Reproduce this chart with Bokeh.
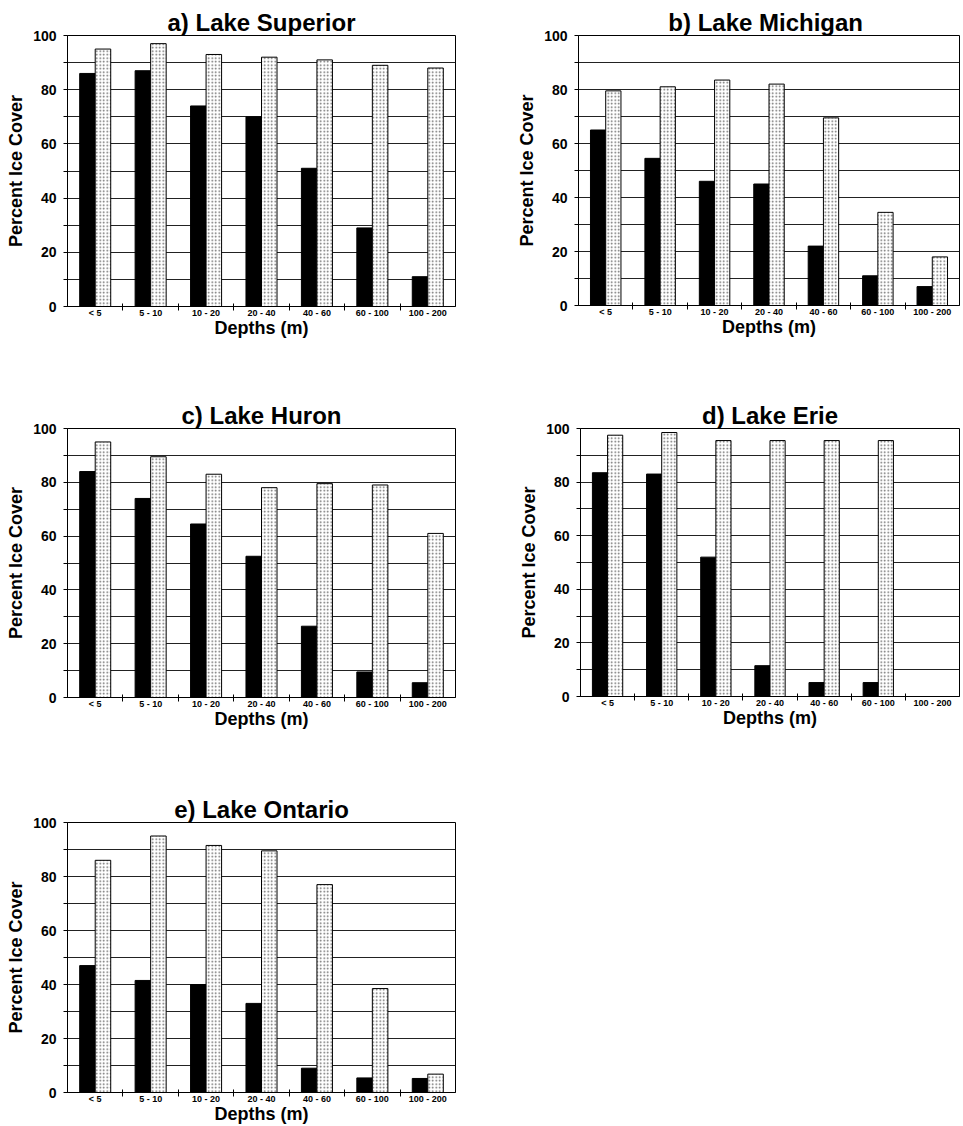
import numpy as np
from bokeh.plotting import figure
from bokeh.models import FixedTicker, Range1d, ColumnDataSource
from bokeh.layouts import column, row
from bokeh.transform import dodge
from bokeh.embed import file_html
from bokeh.resources import INLINE

depths = ["< 5", "5 - 10", "10 - 20", "20 - 40", "40 - 60", "60 - 100", "100 - 200"]

superior_solid = [86, 87, 74, 70, 51, 29, 11]
superior_dotted = [95, 97, 93, 92, 91, 89, 88]

michigan_solid = [65, 54.5, 46, 45, 22, 11, 7]
michigan_dotted = [79.5, 81, 83.5, 82, 69.5, 34.5, 18]

huron_solid = [84, 74, 64.5, 52.5, 26.5, 9.5, 5.5]
huron_dotted = [95, 89.5, 83, 78, 79.5, 79, 61]

erie_solid = [83.5, 83, 52, 11.5, 5.2, 5.2, float("nan")]
erie_dotted = [97.5, 98.5, 95.5, 95.5, 95.5, 95.5, float("nan")]

ontario_solid = [47, 41.5, 40, 33, 9, 5.4, 5.2]
ontario_dotted = [86, 95, 91.5, 89.5, 77, 38.5, 6.8]

y_ticks = [0, 20, 40, 60, 80, 100]
y_minor = [10, 30, 50, 70, 90]
grid_ticks = list(range(0, 101, 10))

FONT = "Liberation Sans"


def panel(title, solid, dotted, fw, fh, bl, br, bt, bb, fixed_height=None):
    n = len(depths)
    centers = np.arange(n) + 0.5
    src = ColumnDataSource(dict(x=centers, solid=solid, dotted=dotted))
    kw = dict(frame_width=fw)
    if fixed_height is None:
        kw["frame_height"] = fh
    else:
        kw["height"] = fixed_height
    p = figure(x_range=Range1d(0, n), y_range=Range1d(0, 100),
               output_backend="svg", toolbar_location=None,
               min_border_left=bl, min_border_right=br,
               min_border_top=bt, min_border_bottom=bb, **kw)
    p.vbar(x=dodge("x", -0.14, range=p.x_range), top="solid", width=0.28, source=src,
           fill_color="black", line_color="black", line_width=1)
    p.vbar(x=dodge("x", 0.14, range=p.x_range), top="dotted", width=0.28, source=src,
           fill_color="white", line_color="black", line_width=1,
           hatch_pattern="dot", hatch_color="#666666", hatch_scale=3.5, hatch_weight=1)

    p.title.text = title
    p.title.align = "center"
    p.title.text_font = FONT
    p.title.text_font_size = "24px"
    p.title.text_font_style = "bold"
    p.title.text_color = "black"
    p.title.standoff = 0

    p.outline_line_color = "black"
    p.outline_line_width = 1
    p.background_fill_color = "white"
    p.border_fill_color = "white"

    p.xgrid.visible = False
    p.ygrid.ticker = FixedTicker(ticks=grid_ticks)
    p.ygrid.grid_line_color = "#222222"
    p.ygrid.grid_line_width = 1

    xa = p.xaxis[0]
    xa.ticker = FixedTicker(ticks=list(centers), minor_ticks=list(range(1, n)))
    xa.major_label_overrides = {float(c): d for c, d in zip(centers, depths)}
    xa.major_tick_out = 0
    xa.major_tick_in = 0
    xa.minor_tick_out = 4
    xa.minor_tick_in = 3
    xa.minor_tick_line_color = "black"
    xa.major_label_standoff = -3
    xa.major_label_text_font = FONT
    xa.major_label_text_font_size = "9px"
    xa.major_label_text_font_style = "bold"
    xa.major_label_text_color = "black"
    xa.axis_label = "Depths (m)"
    xa.axis_label_text_font = FONT
    xa.axis_label_text_font_size = "18px"
    xa.axis_label_text_font_style = "bold"
    xa.axis_label_text_color = "black"
    xa.axis_label_standoff = -3
    xa.axis_line_color = "black"

    ya = p.yaxis[0]
    ya.ticker = FixedTicker(ticks=y_ticks, minor_ticks=y_minor)
    ya.major_tick_out = 4
    ya.major_tick_in = 0
    ya.minor_tick_out = 4
    ya.minor_tick_in = 0
    ya.major_tick_line_color = "black"
    ya.minor_tick_line_color = "black"
    ya.major_label_standoff = 7
    ya.major_label_text_font = FONT
    ya.major_label_text_font_size = "14px"
    ya.major_label_text_font_style = "bold"
    ya.major_label_text_color = "black"
    ya.axis_label = "Percent Ice Cover"
    ya.axis_label_text_font = FONT
    ya.axis_label_text_font_size = "18px"
    ya.axis_label_text_font_style = "bold"
    ya.axis_label_text_color = "black"
    ya.axis_label_standoff = 4
    ya.axis_line_color = "black"
    return p


pa = panel("a) Lake Superior", superior_solid, superior_dotted, 388, 271, 67, 25, 35, 74)
pb = panel("b)  Lake Michigan", michigan_solid, michigan_dotted, 381, 270, 98, 2, 33, 77)
pc = panel("c) Lake Huron", huron_solid, huron_dotted, 388, 269, 67, 25, 48, 63)
pd = panel("d) Lake Erie", erie_solid, erie_dotted, 379, 268, 100, 2, 48, 64)
pe = panel("e) Lake Ontario", ontario_solid, ontario_dotted, 388, 270, 67, 25, 62, 34,
           fixed_height=366)

layout = column(row(pa, pb), row(pc, pd), row(pe))
open("out.html", "w").write(file_html(layout, INLINE))
